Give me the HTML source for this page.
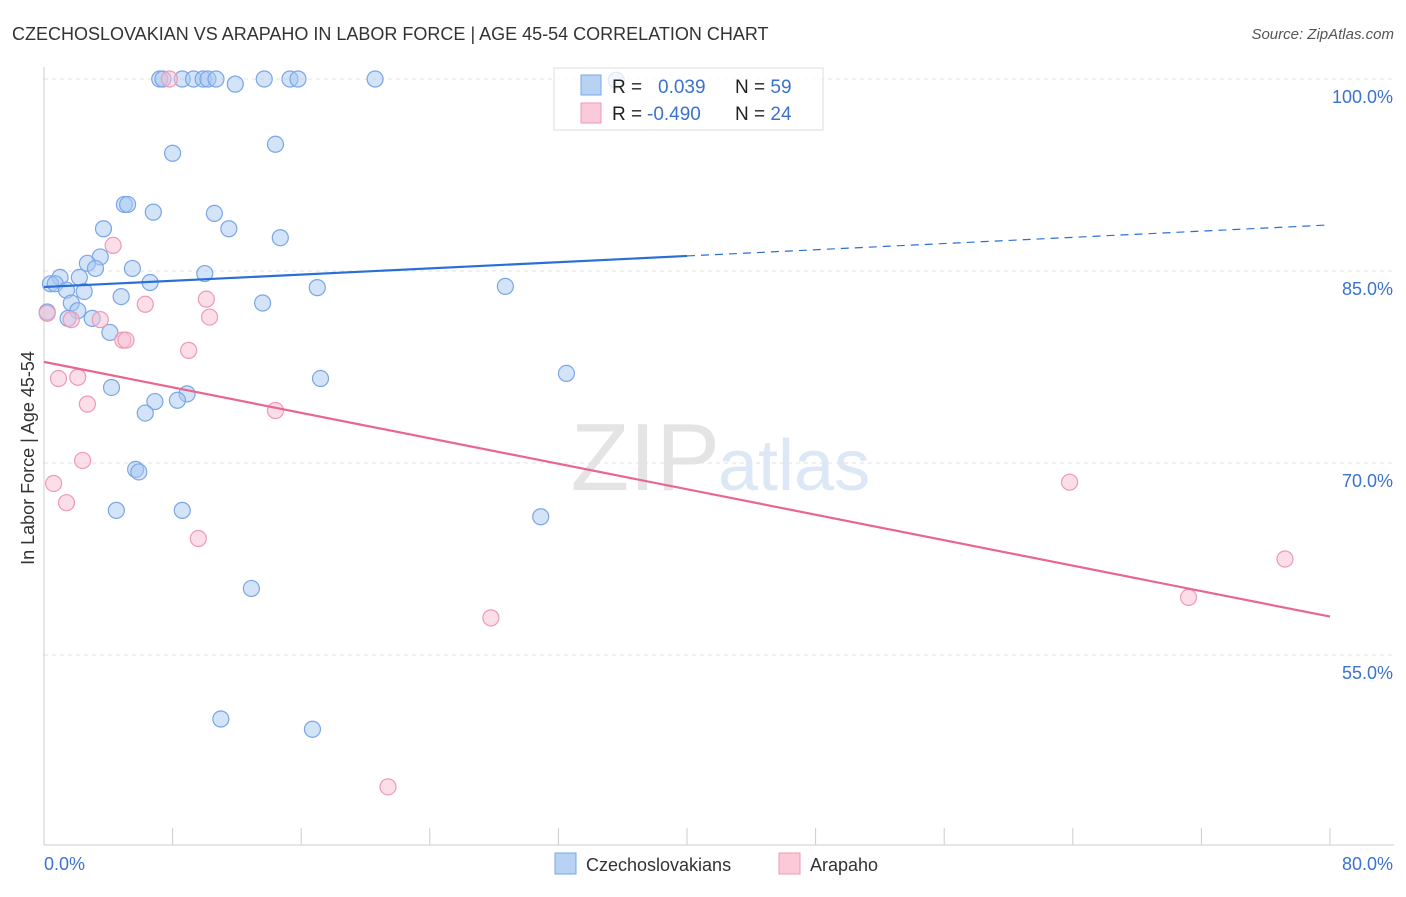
<!DOCTYPE html>
<html><head><meta charset="utf-8"><style>
body{margin:0;background:#fff;font-family:"Liberation Sans",sans-serif}
svg text{font-family:"Liberation Sans",sans-serif}
</style></head><body>
<svg id="chart" width="1406" height="892" xmlns="http://www.w3.org/2000/svg">
<text x="12" y="40" font-size="18" fill="#333">CZECHOSLOVAKIAN VS ARAPAHO IN LABOR FORCE | AGE 45-54 CORRELATION CHART</text>
<text x="1394" y="39" font-size="15" fill="#555" font-style="italic" text-anchor="end">Source: ZipAtlas.com</text>
<text x="0" y="0" transform="translate(34,458) rotate(-90)" font-size="18" fill="#333" text-anchor="middle">In Labor Force | Age 45-54</text>
<g id="grid"></g>
<text x="720" y="490" font-size="96" fill="#e4e4e4" font-family="Liberation Serif" text-anchor="end">ZIP</text>
<text x="718" y="490" font-size="72" fill="#dce8f6">atlas</text>
<g id="marks"></g>
<g>
<rect x="554" y="68" width="269" height="62" fill="rgba(255,255,255,0.75)" stroke="#ddd"/>
<rect x="581" y="75" width="20" height="20" fill="#b8d2f4" stroke="#7aa6e6"/>
<rect x="581" y="103" width="20" height="20" fill="#fbcad8" stroke="#ee9ab4"/>
<text x="612" y="93" font-size="19" fill="#222">R = <tspan fill="#3b72d0" x="658">0.039</tspan><tspan x="735">N = </tspan><tspan fill="#3b72d0">59</tspan></text>
<text x="612" y="120" font-size="19" fill="#222">R = <tspan fill="#3b72d0" x="647">-0.490</tspan><tspan x="735">N = </tspan><tspan fill="#3b72d0">24</tspan></text>
</g>
<g>
<rect x="555" y="853" width="21" height="21" fill="#b8d2f4" stroke="#7aa6e6"/>
<text x="586" y="871" font-size="18" fill="#333">Czechoslovakians</text>
<rect x="779" y="853" width="21" height="21" fill="#fbcad8" stroke="#ee9ab4"/>
<text x="810" y="871" font-size="18" fill="#333">Arapaho</text>
</g>
</svg>
<script>
const yTicks=[100,85,70,55];
const yTickLabels=["100.0%","85.0%","70.0%","55.0%"];
const xTicks=[0,8,16,24,32,40,48,56,64,72,80];
const xEndLabels=["0.0%","80.0%"];
const czechX=[7.2,7.4,8.6,9.3,9.9,10.2,10.7,11.9,13.7,15.3,15.8,20.6,35.6,8.0,14.4,5.0,5.2,6.8,10.6,3.7,11.5,14.7,3.5,2.7,3.2,5.5,10.0,2.2,1.0,0.4,0.7,1.4,2.5,6.6,4.8,13.6,17.0,28.7,1.7,2.1,1.5,3.0,4.1,4.2,17.2,32.5,8.9,6.9,8.3,6.3,5.7,5.9,4.5,8.6,30.9,12.9,11.0,16.7,0.2];
const czechY=[100,100,100,100,100,100,100,99.6,100,100,100,100,99.9,94.2,94.9,90.2,90.2,89.6,89.5,88.3,88.3,87.6,86.1,85.6,85.2,85.2,84.8,84.5,84.5,84.0,84.0,83.5,83.4,84.1,83.0,82.5,83.7,83.8,82.5,81.9,81.3,81.3,80.2,75.9,76.6,77.0,75.4,74.8,74.9,73.9,69.5,69.3,66.3,66.3,65.8,60.2,50.0,49.2,81.8];
const arapX=[7.8,4.3,6.3,10.1,10.3,0.2,1.7,3.5,4.9,5.1,9.0,0.9,2.1,2.7,14.4,2.4,0.6,1.4,9.6,27.8,63.8,71.2,77.2,21.4];
const arapY=[100,87.0,82.4,82.8,81.4,81.7,81.2,81.2,79.6,79.6,78.8,76.6,76.7,74.6,74.1,70.2,68.4,66.9,64.1,57.9,68.5,59.5,62.5,44.7];
const czechTrend=[83.75,88.6];
const arapTrend=[77.9,58.0];
const czechSolidEnd=40;

const X0=44,X1=1330,Y100=79,PXPER=12.8;
const sx=v=>X0+(v/80)*(X1-X0);
const sy=v=>Y100+(100-v)*PXPER;
const NS="http://www.w3.org/2000/svg";
const mk=(tag,attrs,parent)=>{const e=document.createElementNS(NS,tag);for(const k in attrs)e.setAttribute(k,attrs[k]);parent.appendChild(e);return e;};
const grid=document.getElementById('grid'),marks=document.getElementById('marks');

yTicks.forEach((t,i)=>{
  const l=mk('line',{x1:X0,x2:1394,y1:sy(t),y2:sy(t),stroke:'#e2e2e2','stroke-dasharray':'4 4'},grid);
  
  
  const tx=mk('text',{x:1393,y:sy(t)+24,'font-size':18,fill:'#3b72d0','text-anchor':'end'},grid);
  tx.textContent=yTickLabels[i];
  
  
});
const ax=mk('line',{x1:X0,x2:1394,y1:845,y2:845,stroke:'#ccc'},grid);


const ay=mk('line',{x1:X0,x2:X0,y1:67,y2:845,stroke:'#ccc'},grid);


xTicks.forEach(t=>{
  const l=mk('line',{x1:sx(t),x2:sx(t),y1:828,y2:845,stroke:'#ccc'},grid);
  
  
});
const xl0=mk('text',{x:X0,y:870,'font-size':18,fill:'#3b72d0'},grid);xl0.textContent=xEndLabels[0];


const xl1=mk('text',{x:1393,y:870,'font-size':18,fill:'#3b72d0','text-anchor':'end'},grid);xl1.textContent=xEndLabels[1];



czechX.forEach((x,i)=>{
  const c=mk('circle',{cx:sx(x),cy:sy(czechY[i]),r:8,fill:'rgba(168,200,242,0.5)',stroke:'#7aa6e6','stroke-width':1.2},marks);
  
  
});
arapX.forEach((x,i)=>{
  const c=mk('circle',{cx:sx(x),cy:sy(arapY[i]),r:8,fill:'rgba(250,190,210,0.5)',stroke:'#ee9ab4','stroke-width':1.2},marks);
  
  
});
const cAt=x=>czechTrend[0]+(czechTrend[1]-czechTrend[0])*x/80;
const t1=mk('line',{x1:sx(0),y1:sy(cAt(0)),x2:sx(czechSolidEnd),y2:sy(cAt(czechSolidEnd)),stroke:'#2a6fd6','stroke-width':2.2},marks);


const t2=mk('line',{x1:sx(czechSolidEnd),y1:sy(cAt(czechSolidEnd)),x2:sx(80),y2:sy(cAt(80)),stroke:'#2a6fd6','stroke-width':1.2,'stroke-dasharray':'8 6'},marks);


const t3=mk('line',{x1:sx(0),y1:sy(arapTrend[0]),x2:sx(80),y2:sy(arapTrend[1]),stroke:'#e8668f','stroke-width':2.2},marks);


</script>
</body></html>
